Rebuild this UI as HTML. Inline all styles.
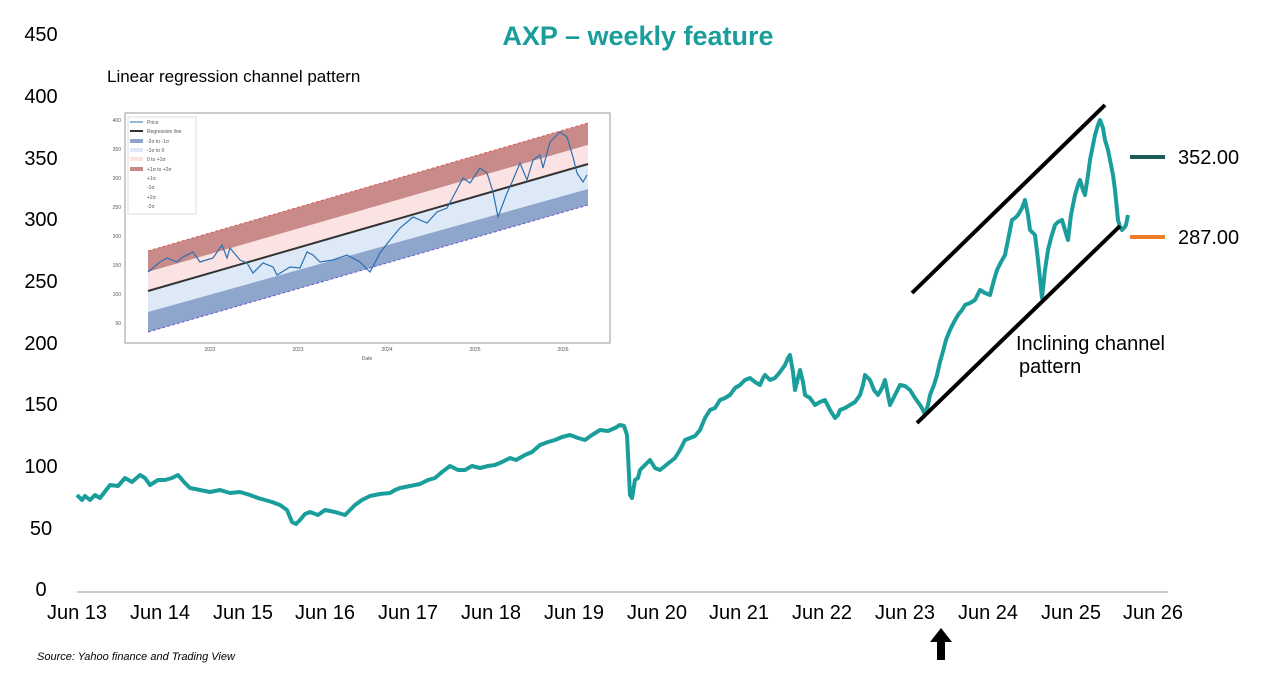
<!DOCTYPE html>
<html><head><meta charset="utf-8"><style>
body{margin:0;background:#fff;}
svg text{font-family:"Liberation Sans",Arial,sans-serif;}
</style></head><body>
<svg width="1267" height="681" viewBox="0 0 1267 681" xmlns="http://www.w3.org/2000/svg">
<rect width="1267" height="681" fill="#fff"/>
<text x="638" y="45" text-anchor="middle" font-size="27" font-weight="bold" fill="#1a9e9c">AXP – weekly feature</text>
<g font-size="20" fill="#000" text-anchor="middle">
<text x="41" y="41">450</text><text x="41" y="103">400</text><text x="41" y="165">350</text><text x="41" y="226">300</text><text x="41" y="288">250</text><text x="41" y="350">200</text><text x="41" y="411">150</text><text x="41" y="473">100</text><text x="41" y="535">50</text><text x="41" y="596">0</text>
</g>
<line x1="77" y1="592" x2="1168" y2="592" stroke="#999" stroke-width="1"/>
<g font-size="20" text-anchor="middle">
<text x="77" y="619">Jun 13</text><text x="160" y="619">Jun 14</text><text x="243" y="619">Jun 15</text><text x="325" y="619">Jun 16</text><text x="408" y="619">Jun 17</text><text x="491" y="619">Jun 18</text><text x="574" y="619">Jun 19</text><text x="657" y="619">Jun 20</text><text x="739" y="619">Jun 21</text><text x="822" y="619">Jun 22</text><text x="905" y="619">Jun 23</text><text x="988" y="619">Jun 24</text><text x="1071" y="619">Jun 25</text><text x="1153" y="619">Jun 26</text>
</g>
<text x="107" y="82" font-size="17">Linear regression channel pattern</text>
<g>
<rect x="125" y="113" width="485" height="230" fill="#fff" stroke="#999" stroke-width="1"/>
<polygon points="148,251 588,123 588,145 148,272" fill="#c98a8a"/>
<polygon points="148,272 588,145 588,164 148,291" fill="#fbe3e3"/>
<polygon points="148,291 588,164 588,189 148,312" fill="#dde9f6"/>
<polygon points="148,312 588,189 588,205 148,332" fill="#8ea5cc"/>
<line x1="148" y1="251" x2="588" y2="123" stroke="#e05555" stroke-dasharray="3,2"/>
<line x1="148" y1="332" x2="588" y2="205" stroke="#6a5ad0" stroke-dasharray="3,2"/>
<line x1="148" y1="291" x2="588" y2="164" stroke="#333" stroke-width="2"/>
<polyline fill="none" stroke="#2a6fb0" stroke-width="1.2" points="148,272 160,262 167,258 177,262 183,257 193,252 200,262 213,258 222,245 227,258 230,248 240,260 247,263 253,273 263,263 273,267 277,275 290,267 300,268 307,252 313,255 320,262 333,260 347,255 360,262 370,272 380,253 390,240 400,228 413,217 427,223 437,212 447,208 453,197 463,178 470,183 480,168 487,173 493,192 498,217 507,193 513,180 520,163 527,180 533,160 540,155 543,168 550,142 560,132 567,137 573,157 577,173 583,182 587,175"/>
<rect x="128" y="117" width="68" height="97" fill="#fff" fill-opacity="0.85" stroke="#ddd"/>
<g font-size="5" fill="#555">
<text x="147" y="124">Price</text><text x="147" y="133">Regression line</text><text x="147" y="143">-2σ to -1σ</text><text x="147" y="152">-1σ to 0</text><text x="147" y="161">0 to +1σ</text><text x="147" y="171">+1σ to +2σ</text><text x="147" y="180">+1σ</text><text x="147" y="189">-1σ</text><text x="147" y="199">+2σ</text><text x="147" y="208">-2σ</text>
</g>
<line x1="130" y1="122" x2="143" y2="122" stroke="#2a6fb0"/>
<line x1="130" y1="131" x2="143" y2="131" stroke="#333" stroke-width="2"/>
<rect x="130" y="139" width="13" height="4" fill="#8ea5cc"/><rect x="130" y="148" width="13" height="4" fill="#dde9f6"/><rect x="130" y="157" width="13" height="4" fill="#fbe3e3"/><rect x="130" y="167" width="13" height="4" fill="#c98a8a"/>
<g font-size="5" fill="#555" text-anchor="end">
<text x="121" y="122">400</text><text x="121" y="151">350</text><text x="121" y="180">300</text><text x="121" y="209">250</text><text x="121" y="238">200</text><text x="121" y="267">150</text><text x="121" y="296">100</text><text x="121" y="325">50</text>
</g>
<g font-size="5" fill="#555" text-anchor="middle">
<text x="210" y="351">2022</text><text x="298" y="351">2023</text><text x="387" y="351">2024</text><text x="475" y="351">2025</text><text x="563" y="351">2026</text><text x="367" y="360">Date</text>
</g>
</g>
<polyline fill="none" stroke="#1a9e9c" stroke-width="4" stroke-linejoin="round" points="77,495 82,500 85,496 90,500 95,495 100,498 110,485 118,486 125,478 132,482 140,475 145,478 150,485 158,480 165,480 172,478 178,475 184,482 190,488 200,490 210,492 220,490 230,493 240,492 250,495 258,498 265,500 272,502 280,505 287,510 292,522 296,524 300,520 305,514 310,512 318,515 325,510 335,512 345,515 350,510 355,505 362,500 370,496 380,494 390,493 395,490 400,488 410,486 420,484 428,480 435,478 442,472 450,466 458,470 465,470 472,466 480,468 488,466 495,465 502,462 510,458 516,460 525,455 532,452 540,445 548,442 555,440 562,437 570,435 578,438 585,440 592,435 600,430 608,431 615,428 620,425 624,426 627,435 630,495 632,498 635,480 638,478 640,470 645,465 650,460 655,468 660,470 665,466 670,462 675,458 680,450 685,440 690,438 695,436 700,430 705,418 710,410 715,408 720,400 725,398 730,395 735,388 740,385 745,380 750,378 755,382 760,385 763,378 765,375 770,380 775,378 780,372 785,365 788,358 790,355 793,372 795,390 798,378 800,370 803,382 805,395 810,398 815,405 820,402 825,400 830,410 835,418 838,415 840,410 845,408 850,405 855,402 860,395 863,385 865,375 868,378 870,380 874,390 878,395 882,388 885,380 888,395 890,405 895,395 900,385 905,386 910,390 915,398 920,405 923,410 925,415 928,405 930,395 934,385 937,375 940,362 942,355 946,340 950,330 954,322 958,315 962,310 965,305 970,303 975,300 978,294 980,290 985,293 990,295 994,280 997,270 1001,262 1005,255 1008,240 1012,220 1015,218 1018,215 1022,208 1025,200 1028,215 1030,230 1033,233 1035,235 1038,260 1042,298 1045,270 1048,250 1051,238 1055,225 1058,222 1062,220 1065,230 1068,240 1071,215 1075,195 1078,185 1080,180 1083,190 1085,195 1088,175 1090,160 1093,145 1095,135 1098,125 1100,120 1103,128 1105,140 1108,150 1110,160 1113,175 1115,190 1117,210 1118,220 1120,227 1122,230 1124,228 1126,225 1128,215"/>
<line x1="912" y1="293" x2="1105" y2="105" stroke="#000" stroke-width="4"/>
<line x1="917" y1="423" x2="1120" y2="226" stroke="#000" stroke-width="4"/>
<text x="1016" y="350" font-size="20">Inclining channel</text>
<text x="1019" y="373" font-size="20">pattern</text>
<line x1="1130" y1="157" x2="1165" y2="157" stroke="#1c5c5a" stroke-width="4"/>
<text x="1178" y="164" font-size="20">352.00</text>
<line x1="1130" y1="237" x2="1165" y2="237" stroke="#f07c2a" stroke-width="4"/>
<text x="1178" y="244" font-size="20">287.00</text>
<polygon points="941,628 952,642 945,642 945,660 937,660 937,642 930,642" fill="#000"/>
<text x="37" y="660" font-size="11" font-style="italic">Source: Yahoo finance and Trading View</text>
</svg>
</body></html>
